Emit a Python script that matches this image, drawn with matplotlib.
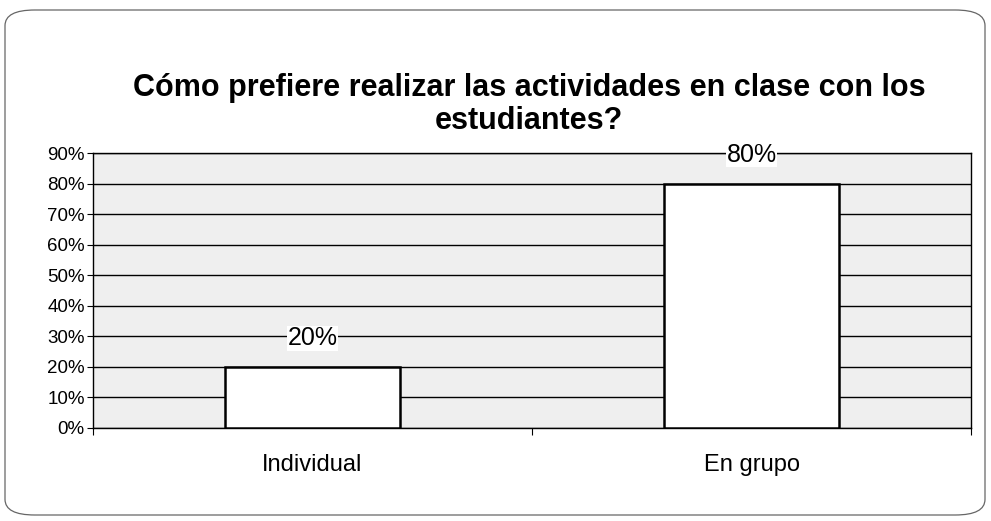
import matplotlib.pyplot as plt
from matplotlib.patches import FancyBboxPatch
from matplotlib.ticker import FuncFormatter

plt.rcParams['font.family'] = ['Liberation Sans', 'DejaVu Sans']

categories = ['Individual', 'En grupo']
values = [20, 80]
yticks = [0, 10, 20, 30, 40, 50, 60, 70, 80, 90]

fig = plt.figure(figsize=(9.91, 5.21), dpi=100)
ax = fig.add_axes([93 / 991, 1 - 428 / 521, (971 - 93) / 991, (428 - 153) / 521])

# rounded frame around the chart
frame = FancyBboxPatch((5 / 991, 6 / 521), 980 / 991, 505 / 521,
                       boxstyle='round,pad=0,rounding_size=0.03',
                       transform=fig.transFigure, fill=False,
                       edgecolor='#666666', linewidth=0.9)
fig.patches.append(frame)

x = range(len(categories))
ax.bar(x, values, width=0.4, color='white', edgecolor='black', linewidth=1.8, zorder=3)

for i, v in enumerate(values):
    ax.text(i, v + 5.5, f'{v}%', ha='center', va='bottom', fontsize=18,
            zorder=4, clip_on=False,
            bbox=dict(facecolor='white', edgecolor='none', pad=0.3))

ax.set_xlim(-0.5, 1.5)
ax.set_ylim(0, 90)
ax.set_yticks(yticks)
ax.yaxis.set_major_formatter(FuncFormatter(lambda v, p: f'{v:.0f}%'))
ax.set_xticks([-0.5, 0.5, 1.5])
ax.set_xticklabels([])
ax.set_xticks(list(x), minor=True)
ax.set_xticklabels(categories, minor=True, fontsize=17)
ax.tick_params(axis='x', which='minor', length=0, pad=19)
ax.tick_params(axis='x', which='major', length=5, direction='out')
ax.tick_params(axis='y', length=4, labelsize=13.5, pad=2)

ax.set_facecolor('#efefef')
ax.grid(axis='y', color='black', linewidth=1.0, zorder=0)
ax.set_axisbelow(True)
for s in ax.spines.values():
    s.set_color('black')
    s.set_linewidth(1.0)

fig.text(0.534, 1 - 88 / 521, 'Cómo prefiere realizar las actividades en clase con los',
         ha='center', va='center', fontsize=22, fontweight='bold')
fig.text(0.534, 1 - 121 / 521, 'estudiantes?', ha='center', va='center',
         fontsize=22, fontweight='bold')

fig.savefig('out.png', dpi=100)
